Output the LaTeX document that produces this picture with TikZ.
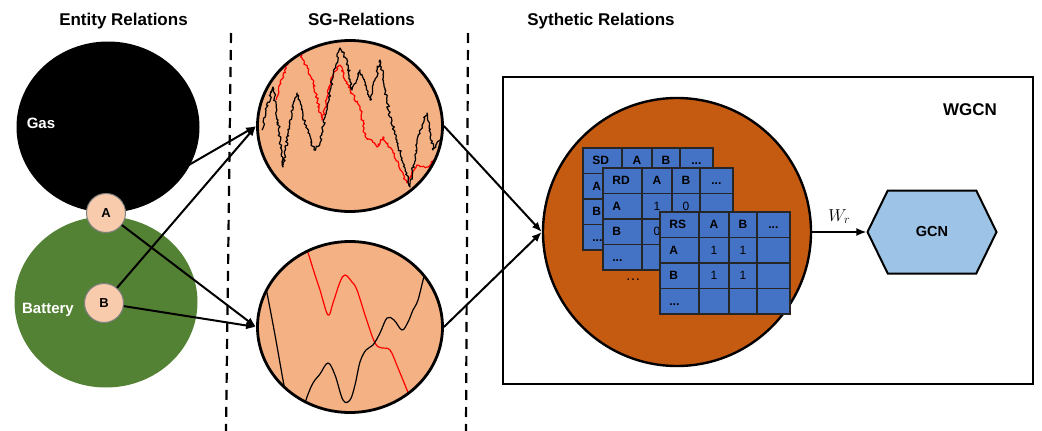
\documentclass[tikz,border=0pt]{standalone}
\usepackage{fontspec}
\setmainfont{Liberation Sans}
\usetikzlibrary{shapes.geometric, shapes.symbols, arrows.meta, matrix, decorations.pathmorphing}
\definecolor{batgreen}{RGB}{84,130,53}
\definecolor{nodepeach}{RGB}{248,203,173}
\definecolor{sgpeach}{RGB}{244,177,131}
\definecolor{synorange}{RGB}{197,90,17}
\definecolor{tblblue}{RGB}{68,114,196}
\definecolor{gcnblue}{RGB}{157,195,230}

\begin{document}
\begin{tikzpicture}[x=1pt, y=-1pt,
  title/.style={font=\fontsize{17}{20}\selectfont\bfseries, anchor=base},
  lbl/.style={font=\fontsize{15}{18}\selectfont\bfseries, text=white, anchor=base},
  entity/.style={ellipse, inner sep=0pt, minimum width=183pt, minimum height=171pt},
  ent/.style={circle, draw=gray, line width=1pt, fill=nodepeach, minimum size=39pt,
    inner sep=0pt, font=\fontsize{13}{15}\selectfont\bfseries},
  sg/.style={ellipse, draw, line width=2.8pt, minimum width=185pt, minimum height=171pt, inner sep=0pt},
  arrow/.style={-{Latex[length=10pt, width=8pt]}, line width=2pt},
  walk/.style={decorate, decoration={random steps, segment length=1.8pt, amplitude=1.4pt},
    line width=1.2pt, line join=round},
  trend/.style={line width=1.2pt, smooth, tension=0.6},
  sep/.style={dash pattern=on 10pt off 7pt, line width=2.2pt},
  tbl/.style={matrix of nodes, nodes in empty cells, anchor=north west, inner sep=0pt,
    row sep=-1.4pt, column sep=-1.4pt,
    nodes={rectangle, draw=black!85, line width=1.4pt, fill=tblblue, minimum height=25.5pt,
      inner sep=0pt, text height=8.5pt, text depth=0pt, font=\fontsize{12}{14}\selectfont},
    row 1/.style={nodes={font=\fontsize{12}{14}\selectfont\bfseries}},
    column 1/.style={nodes={minimum width=39pt, text width=20pt, align=left,
      font=\fontsize{12}{14}\selectfont\bfseries}},
    column 2/.style={nodes={minimum width=30pt}},
    column 3/.style={nodes={minimum width=28pt}},
    column 4/.style={nodes={minimum width=33pt}}}
]
\useasboundingbox (0,0) rectangle (1042,431);

% titles
\node[title] (t1) at (123.5,25) {Entity Relations};
\node[title] (t2) at (361.5,25) {SG-Relations};
\node[title] (t3) at (601,25) {Sythetic Relations};

\draw[sep] (231,33) -- (226,431);
\draw[sep] (468,33) -- (466,431);

% entity relations
\node[entity, fill=black] (gas) at (108,127) {};
\node[entity, fill=batgreen] (battery) at (106,302) {};
\node[lbl] (gaslbl) at (41,128) {Gas};
\node[lbl] (batlbl) at (48,313) {Battery};
\node[ent] (A) at (106,213) {A};
\node[ent] (B) at (104,303) {B};

% SG relations
\begin{scope}
  \clip (350,126) ellipse [x radius=92.5pt, y radius=85.5pt];
  \fill[sgpeach] (250,30) rectangle (450,220);
  \pgfmathsetseed{11}
  \draw[walk, red] plot coordinates {(276,100) (283,76) (291,52) (297,45) (302,58) (313,80)
    (322,120) (332,77) (340,65) (350,90) (360,107) (365,135) (377,147) (383,137)
    (393,153) (407,183) (417,165) (427,167) (435,160)};
  \draw[walk] plot coordinates {(262,130) (266,110) (273,87) (278,120) (283,167) (290,120)
    (297,93) (303,115) (308,133) (314,150) (320,143) (327,107) (333,75) (340,48)
    (347,60) (352,90) (360,70) (365,85) (370,100) (375,80) (380,60) (385,90) (390,117)
    (397,140) (403,163) (410,187) (417,143) (422,125) (427,113) (433,150) (440,140) (446,150)};
\end{scope}
\node[sg] (sgtop) at (350,126) {};

\begin{scope}
  \clip (350,327) ellipse [x radius=92.5pt, y radius=85pt];
  \fill[sgpeach] (250,230) rectangle (450,420);
  \draw[trend, red] plot coordinates {(300,235) (307,250) (315,275) (320,290) (328,315)
    (333,303) (340,282) (345,275) (352,282) (357,290) (366,318) (375,343) (382,348)
    (390,350) (398,368) (407,390) (415,410)};
  \draw[trend] plot coordinates {(264,280) (267,293) (275,335) (283,380) (287,400)};
  \draw[trend] plot coordinates {(303,410) (307,397) (313,383) (320,374) (328,363) (335,375)
    (343,400) (350,400) (355,385) (360,362) (366,350) (373,345) (380,333) (387,318)
    (394,320) (402,330) (408,322) (413,310) (418,300) (425,273) (432,255) (440,235)};
\end{scope}
\node[sg] (sgbot) at (350,327) {};

\draw[arrow] (A) -- (sgtop.west);
\draw[arrow] (B) -- (sgtop.west);
\draw[arrow] (A) -- (sgbot.west);
\draw[arrow] (B) -- (sgbot.west);

% synthetic relations
\draw[line width=2.2pt] (503,77) rectangle (1033,384);
\node[title] (wgcn) at (970,115) {WGCN};
\node[circle, draw, line width=2.4pt, fill=synorange, minimum size=268pt, inner sep=0pt] (synth) at (677,232) {};

\matrix (sd) [tbl] at (582,147) {
  SD & A & B & ... \\
  A & & & \\
  B & & & \\
  ... & & & \\
};
\matrix (rd) [tbl] at (602,167) {
  RD & A & B & ... \\
  A & 1 & 0 & \\
  B & 0 & & \\
  ... & & & \\
};
\matrix (rs) [tbl] at (659,211) {
  RS & A & B & ... \\
  A & 1 & 1 & \\
  B & 1 & 1 & \\
  ... & & & \\
};
\node[font=\fontsize{15}{17}\selectfont] (more) at (633,280) {\dots};

\draw[arrow] (sgtop.east) -- (synth.west);
\draw[arrow] (sgbot.east) -- (synth.west);

\node[signal, signal to=west and east, signal pointer angle=128, draw, line width=2pt,
  fill=gcnblue, minimum width=129pt, minimum height=83pt,
  font=\fontsize{14.5}{17}\selectfont\bfseries] (gcn) at (932,232) {GCN};
\draw[arrow, line width=1.6pt] (synth) -- node[above=4pt, font=\fontsize{17}{19}\selectfont] (wr) {$W_r$} (gcn);
\end{tikzpicture}
\end{document}
